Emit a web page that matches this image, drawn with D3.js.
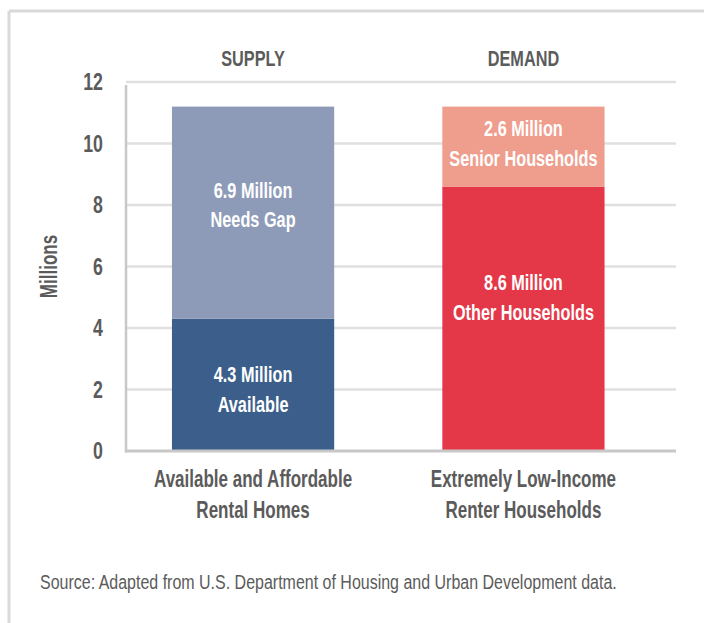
<!DOCTYPE html>
<html>
<head>
<meta charset="utf-8">
<script src="https://cdn.jsdelivr.net/npm/d3@7"></script>
<style>
  body { margin: 0; background: #fff; }
  text { font-family: "Liberation Sans", Arial, sans-serif; }
</style>
</head>
<body>
<div id="vis"></div>
<script>
// chart data
const columns = ["supply", "demand"]
const headers = ["SUPPLY", "DEMAND"]
const columnLabels = [["Available and Affordable", "Rental Homes"], ["Extremely Low-Income", "Renter Households"]]
const lowerValues = [4.3, 8.6]
const upperValues = [6.9, 2.6]
const lowerLabels = [["4.3 Million", "Available"], ["8.6 Million", "Other Households"]]
const upperLabels = [["6.9 Million", "Needs Gap"], ["2.6 Million", "Senior Households"]]
const yTicks = [0, 2, 4, 6, 8, 10, 12]
const source = "Source: Adapted from U.S. Department of Housing and Urban Development data."

// where the designer put the segment labels (in millions)
const lowerLabelAt = [2, 5]
const upperLabelAt = [8, 10]

const lowerCols = ["#3b5f8a", "#e43747"]
const upperCols = ["#8e9bb8", "#ef9d8c"]
const grey = "#5b5b5b"

const W = 704, H = 623
const axisLeft = 126, gridRight = 676
const narrow = 0.74 // squeeze to look like a condensed face

let svg = d3.select("#vis").append("svg")
  .attr("width", W)
  .attr("height", H)

// frame (top and left edges only show)
svg.append("line").attr("x1", 9).attr("x2", W).attr("y1", 11).attr("y2", 11)
  .attr("stroke", "#d9d9d9").attr("stroke-width", 3)
svg.append("line").attr("x1", 9).attr("x2", 9).attr("y1", 11).attr("y2", H)
  .attr("stroke", "#d9d9d9").attr("stroke-width", 3)

let x = d3.scaleBand()
  .domain(columns)
  .range([axisLeft, 650.5])
  .paddingInner(0.4)
  .paddingOuter(0.17)

let y = d3.scaleLinear()
  .domain([0, 12])
  .range([451, 82])

// text block, centred lines, squeezed horizontally
function label(g, lines, cx, cy, size, color, gap, anchor) {
  let t = g.append("text")
    .attr("transform", `translate(${cx},${cy}) scale(${narrow},1)`)
    .attr("text-anchor", anchor || "middle")
    .attr("font-size", size)
    .attr("font-weight", "bold")
    .attr("fill", color)
  lines.forEach((s, k) => {
    t.append("tspan")
      .attr("x", 0)
      .attr("y", (k - (lines.length - 1) / 2) * gap)
      .attr("dy", "0.35em")
      .text(s)
  })
  return t
}

// gridlines
svg.append("g")
  .selectAll("line")
  .data(yTicks.filter(d => d > 0))
  .enter()
  .append("line")
  .attr("x1", axisLeft).attr("x2", gridRight)
  .attr("y1", d => y(d)).attr("y2", d => y(d))
  .attr("stroke", "#e0e0e0")
  .attr("stroke-width", 2.5)

// tick labels
let ticks = svg.append("g")
yTicks.forEach(d => label(ticks, [String(d)], 103, y(d), 24, grey, 0, "end"))

// axis title
label(svg, ["Millions"], 0, 0, 23, grey, 0)
  .attr("transform", `translate(49,${y(6)}) rotate(-90) scale(${narrow},1)`)

// stacked bars
let bars = svg.append("g")
bars.selectAll("rect.lower")
  .data(columns)
  .enter()
  .append("rect")
  .attr("class", "lower")
  .attr("x", d => x(d))
  .attr("width", x.bandwidth())
  .attr("y", (d, i) => y(lowerValues[i]))
  .attr("height", (d, i) => y(0) - y(lowerValues[i]))
  .attr("fill", (d, i) => lowerCols[i])

bars.selectAll("rect.upper")
  .data(columns)
  .enter()
  .append("rect")
  .attr("class", "upper")
  .attr("x", d => x(d))
  .attr("width", x.bandwidth())
  .attr("y", (d, i) => y(lowerValues[i] + upperValues[i]))
  .attr("height", (d, i) => y(lowerValues[i]) - y(lowerValues[i] + upperValues[i]))
  .attr("fill", (d, i) => upperCols[i])

// axis lines
svg.append("line")
  .attr("x1", axisLeft).attr("x2", axisLeft)
  .attr("y1", y(12) + 3).attr("y2", y(0) + 1.5)
  .attr("stroke", "#c8c8c8").attr("stroke-width", 2.5)
svg.append("line")
  .attr("x1", axisLeft - 1).attr("x2", gridRight)
  .attr("y1", y(0)).attr("y2", y(0))
  .attr("stroke", "#c8c8c8").attr("stroke-width", 3)

let labels = svg.append("g")
columns.forEach((c, i) => {
  let cx = x(c) + x.bandwidth() / 2
  label(labels, lowerLabels[i], cx, y(lowerLabelAt[i]), 22, "#fff", 29.5)
  label(labels, upperLabels[i], cx, y(upperLabelAt[i]), 22, "#fff", 29.5)

  // header
  label(svg, [headers[i]], cx, 58.5, 22, grey, 0)

  // category label under the axis
  label(svg, columnLabels[i], cx, 494, 23, grey, 31)
})

// source line, squeezed to span the same width as the original
let src = svg.append("text")
  .attr("font-size", 21)
  .attr("fill", grey)
  .text(source)
let srcLen = src.node().getComputedTextLength()
src.attr("transform", `translate(40,589) scale(${577 / srcLen},1)`)
</script>
</body>
</html>
